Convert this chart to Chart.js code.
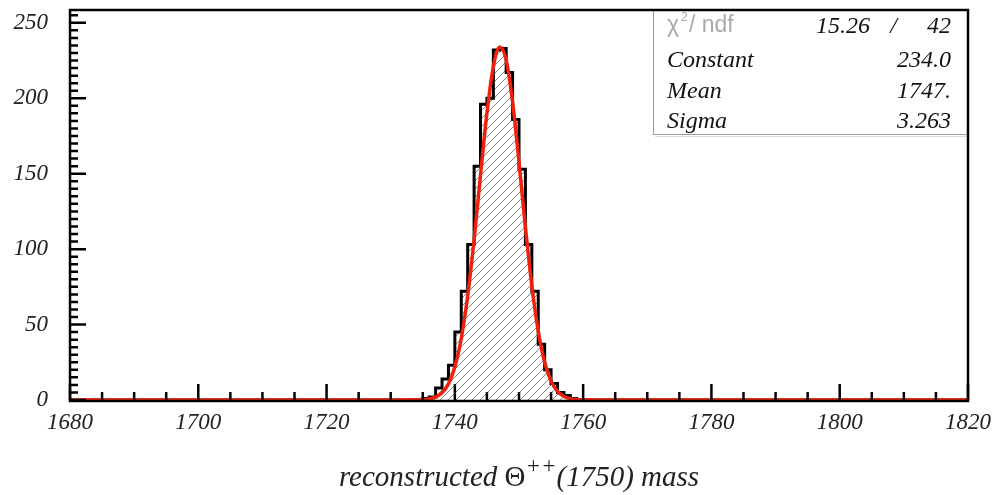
<!DOCTYPE html>
<html>
<head>
<meta charset="utf-8">
<script src="https://cdn.jsdelivr.net/npm/chart.js@4.4.0/dist/chart.umd.min.js"></script>
<style>
html, body { margin: 0; padding: 0; background: #fff; }
</style>
</head>
<body>
<canvas id="massChart" width="995" height="495"></canvas>
<script>
// histogram: 1 MeV bins from 1680 to 1820, only the peak region is filled
const binLow = 1680;
const binHigh = 1820;
const peakFirstBin = 1735;
const peakCounts = [1, 2, 8, 14, 23, 45, 72, 103, 155, 196, 200, 232, 233, 217, 186, 153, 103, 72, 37, 20, 11, 5, 3, 1];

// red gaussian fit
const fitX = [1680, 1732, 1734, 1735, 1736, 1737, 1738, 1739, 1740, 1741, 1742, 1743, 1744, 1745, 1746, 1747, 1748, 1749, 1750, 1751, 1752, 1753, 1754, 1755, 1756, 1757, 1758, 1759, 1760, 1762, 1820];
const fitY = [0, 0, 0.1, 0.2, 0.7, 1.9, 4.8, 10.7, 21.9, 40.8, 69, 106.3, 149, 190.2, 221, 234, 225.3, 197.5, 157.6, 114.6, 75.8, 45.6, 25, 12.5, 5.7, 2.3, 0.9, 0.3, 0.1, 0, 0];

const xTickValues = [1680, 1700, 1720, 1740, 1760, 1780, 1800, 1820];
const yTickValues = [0, 50, 100, 150, 200, 250];

const statNames = ['Constant', 'Mean', 'Sigma'];
const statValues = ['234.0', '1747.', '3.263'];
const chi2 = '15.26';
const ndf = '42';

const counts = new Array(binHigh - binLow).fill(0);
peakCounts.forEach((c, i) => { counts[peakFirstBin - binLow + i] = c; });
const histPoints = counts.map((c, i) => ({ x: binLow + i, y: c }));
histPoints.push({ x: binHigh, y: counts[counts.length - 1] });
const fitPoints = fitX.map((x, i) => ({ x: x, y: fitY[i] }));

// diagonal hatch like ROOT fill style
function hatch() {
    const c = document.createElement('canvas');
    c.width = 8; c.height = 8;
    const g = c.getContext('2d');
    g.strokeStyle = '#777';
    g.lineWidth = 0.9;
    g.beginPath();
    g.moveTo(0, 8); g.lineTo(8, 0);
    g.moveTo(-1, 1); g.lineTo(1, -1);
    g.moveTo(7, 9); g.lineTo(9, 7);
    g.stroke();
    return g.createPattern(c, 'repeat');
}

const serif = '"Liberation Serif", "Times New Roman", serif';

const frameAndBox = {
    id: 'frameAndBox',
    afterDatasetsDraw(chart) {
        const { ctx, chartArea: a, scales: { x, y } } = chart;
        ctx.save();
        ctx.strokeStyle = '#000';
        ctx.lineWidth = 2.5;
        ctx.beginPath();
        for (let v = binLow; v <= binHigh; v += 5) {
            const px = x.getPixelForValue(v);
            ctx.moveTo(px, a.bottom);
            ctx.lineTo(px, a.bottom - (v % 20 === 0 ? 16 : 8));
        }
        for (let v = 0; v <= y.max; v += 5) {
            const py = y.getPixelForValue(v);
            ctx.moveTo(a.left, py);
            ctx.lineTo(a.left + (v % 50 === 0 ? 16 : 8), py);
        }
        ctx.stroke();

        // stats box
        const bx = 653, by = a.top, bw = a.right - bx, bh = 124;
        ctx.fillStyle = '#fff';
        ctx.fillRect(bx, by, bw, bh);
        ctx.strokeStyle = '#999';
        ctx.lineWidth = 1;
        ctx.beginPath();
        ctx.moveTo(bx + 0.5, by);
        ctx.lineTo(bx + 0.5, by + bh + 0.5);
        ctx.lineTo(a.right, by + bh + 0.5);
        ctx.stroke();
        ctx.strokeStyle = '#ddd';
        ctx.beginPath();
        ctx.moveTo(bx + 2, by + bh + 2.5);
        ctx.lineTo(a.right, by + bh + 2.5);
        ctx.stroke();

        ctx.fillStyle = '#aaa';
        ctx.textBaseline = 'alphabetic';
        ctx.textAlign = 'left';
        ctx.font = '23px "Liberation Sans", sans-serif';
        ctx.fillText('\u03c7', 667, 32);
        ctx.font = '12px "Liberation Sans", sans-serif';
        ctx.fillText('2', 681, 21);
        ctx.font = '23px "Liberation Sans", sans-serif';
        ctx.fillText('/ ndf', 689, 32);

        ctx.fillStyle = '#111';
        ctx.font = 'italic 24px ' + serif;
        ctx.textAlign = 'right';
        ctx.fillText(chi2, 870, 33);
        ctx.fillText('/', 897, 33);
        ctx.fillText(ndf, 951, 33);
        const rows = [67, 98, 128];
        statNames.forEach((n, i) => {
            ctx.textAlign = 'left';
            ctx.fillText(n, 667, rows[i]);
            ctx.textAlign = 'right';
            ctx.fillText(statValues[i], 951, rows[i]);
        });

        // frame
        ctx.strokeStyle = '#000';
        ctx.lineWidth = 2.5;
        ctx.strokeRect(a.left, a.top, a.right - a.left, a.bottom - a.top + 1);
        ctx.restore();
    },
    afterDraw(chart) {
        const { ctx, chartArea: a } = chart;
        ctx.save();
        ctx.fillStyle = '#222';
        ctx.textBaseline = 'alphabetic';
        ctx.textAlign = 'left';
        const parts = [
            { t: 'reconstructed ', f: 'italic 29px ' + serif, dy: 0 },
            { t: '\u0398', f: '29px ' + serif, dy: 0 },
            { t: '++', f: 'italic 23px ' + serif, dy: -13 },
            { t: '(1750) mass', f: 'italic 29px ' + serif, dy: 0 }
        ];
        let total = 0;
        parts.forEach(p => { ctx.font = p.f; p.w = ctx.measureText(p.t).width; total += p.w; });
        let cx = (a.left + a.right) / 2 - total / 2;
        parts.forEach(p => {
            ctx.font = p.f;
            ctx.fillText(p.t, cx, 486 + p.dy);
            cx += p.w;
        });
        ctx.restore();
    }
};

const ctx = document.getElementById('massChart').getContext('2d');
const massChart = new Chart(ctx, {
    type: 'line',
    data: {
        datasets: [{
            label: 'fit',
            data: fitPoints,
            borderColor: '#f0200c',
            borderWidth: 3.5,
            pointRadius: 0,
            fill: false,
            cubicInterpolationMode: 'monotone',
            order: 0
        }, {
            label: 'histogram',
            data: histPoints,
            stepped: 'before',
            borderColor: '#000',
            borderWidth: 3,
            backgroundColor: hatch(),
            fill: 'origin',
            pointRadius: 0,
            order: 1
        }]
    },
    options: {
        responsive: false,
        animation: false,
        layout: { padding: { top: 10, right: 27, left: 0, bottom: 0 } },
        plugins: {
            legend: { display: false },
            tooltip: { enabled: false }
        },
        scales: {
            x: {
                type: 'linear',
                min: binLow,
                max: binHigh,
                afterFit: s => { s.height = 95; s.paddingLeft = 0; s.paddingRight = 0; },
                afterBuildTicks: s => { s.ticks = xTickValues.map(v => ({ value: v })); },
                grid: { display: false, drawTicks: false },
                border: { display: false },
                ticks: {
                    padding: 9,
                    maxRotation: 0,
                    autoSkip: false,
                    color: '#222',
                    font: { family: serif, style: 'italic', size: 23 },
                    callback: v => String(v)
                }
            },
            y: {
                min: 0,
                max: 258.5,
                afterFit: s => { s.width = 70; s.paddingTop = 0; s.paddingBottom = 0; },
                afterBuildTicks: s => { s.ticks = yTickValues.map(v => ({ value: v })); },
                grid: { display: false, drawTicks: false },
                border: { display: false },
                ticks: {
                    padding: 22,
                    color: '#222',
                    font: { family: serif, style: 'italic', size: 23 },
                    callback: v => String(v)
                }
            }
        }
    },
    plugins: [frameAndBox]
});
</script>
</body>
</html>
